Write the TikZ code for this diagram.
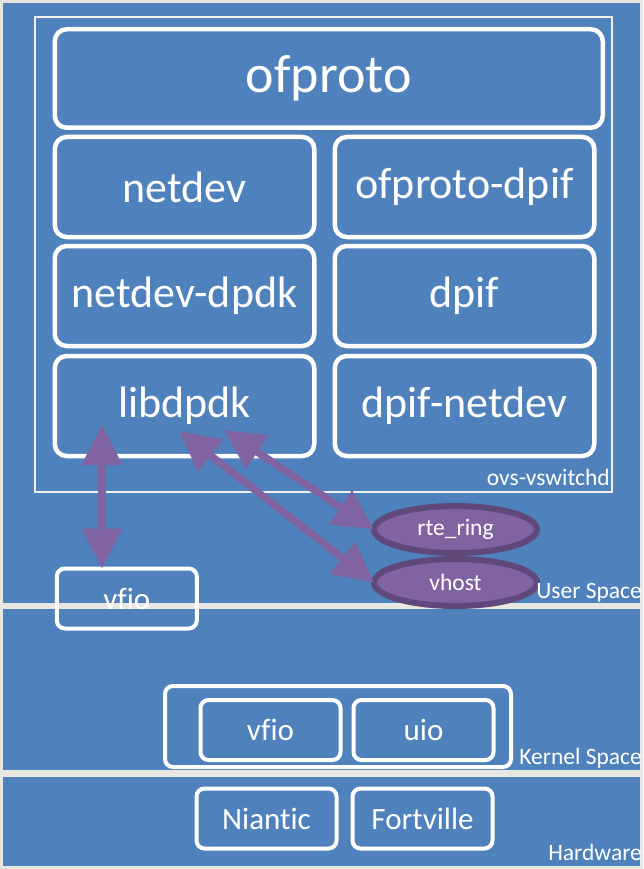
\documentclass[tikz,border=0pt]{standalone}
\usepackage{fontspec}
\setmainfont{Carlito}[Ligatures=NoCommon]
\usetikzlibrary{positioning,arrows.meta,shapes.geometric}
\definecolor{spaceblue}{HTML}{4F81BD}
\definecolor{spacegap}{HTML}{E9E7E2}
\definecolor{ringfill}{HTML}{8064A2}
\definecolor{ringdraw}{HTML}{5F497A}

\begin{document}
\begin{tikzpicture}[x=1pt,y=-1pt,>={Triangle[length=40pt,width=39pt]},node distance=9pt and 20.5pt,
  layerbox/.style={draw=white,line width=4.5pt,rounded corners=12pt,text=white,inner sep=0pt,outer sep=0pt,minimum width=259.5pt,minimum height=100pt,font=\fontsize{44}{50}\selectfont},
  unitbox/.style={draw=white,line width=4pt,rounded corners=8pt,text=white,inner sep=0pt,outer sep=0pt,minimum width=140pt,minimum height=60pt,font=\fontsize{31}{36}\selectfont},
  ringnode/.style={ellipse,draw=ringdraw,fill=ringfill,line width=6pt,text=white,inner sep=0pt,outer sep=0pt,minimum width=163pt,minimum height=47pt,font=\fontsize{23.5}{28}\selectfont},
  spacelabel/.style={text=white,inner sep=0pt,anchor=base east,font=\fontsize{23.5}{28}\selectfont},
  dualarrow/.style={<->,draw=ringfill,line width=7.5pt}]
\useasboundingbox (0,0) rectangle (643,869);
\fill[spacegap] (0,0) rectangle (643,869);
\fill[spaceblue] (3,3) rectangle (640,603);
\fill[spaceblue] (3,609) rectangle (640,770);
\fill[spaceblue] (3,777) rectangle (640,866);
\draw[white!88!gray,line width=2.5pt] (35,17) rectangle (612,492);

\node[layerbox,minimum width=548pt,minimum height=98.5pt,font=\fontsize{54}{60}\selectfont] (ofproto) at (328.75,78.5) {ofproto};
\node[layerbox,below=9.25pt of ofproto.south west,anchor=north west] (netdev) {netdev};
\node[layerbox,right=of netdev] (ofdpif) {ofproto-dpif};
\node[layerbox,below=of netdev] (ndpdk) {netdev-dpdk};
\node[layerbox,below=of ofdpif] (dpif) {dpif};
\node[layerbox,below=10pt of ndpdk] (libdpdk) {libdpdk};
\node[layerbox,below=10pt of dpif] (dpifnetdev) {dpif-netdev};

\node[unitbox] (uvfio) at (126.8,598.5) {vfio};
\node[ringnode] (rtering) at (455.5,529.5) {rte\_ring};
\node[ringnode,below=6pt of rtering] (vhost) {vhost};

\node[unitbox,minimum width=346pt,minimum height=81pt] (kernel) at (338,726.5) {};
\node[unitbox] (kvfio) at (270.5,730) {vfio};
\node[unitbox,right=13pt of kvfio] (kuio) {uio};

\node[unitbox] (niantic) at (266.5,818.5) {Niantic};
\node[unitbox,right=16pt of niantic] (fortville) {Fortville};

\coordinate (vtop) at (102,425);
\coordinate (ringtail) at (224,430);
\coordinate (hosttail) at (179,431);
\draw[dualarrow] (vtop) -- (vtop |- uvfio.north);
\draw[dualarrow] (ringtail) -- (rtering.west);
\draw[dualarrow] (hosttail) -- (vhost.west);

\node[spacelabel] (ovslabel) at (610,485) {ovs-vswitchd};
\node[spacelabel] (userlabel) at (642,598) {User Space};
\node[spacelabel] (kernellabel) at (642,764) {Kernel Space};
\node[spacelabel] (hwlabel) at (642,860) {Hardware};
\end{tikzpicture}
\end{document}
